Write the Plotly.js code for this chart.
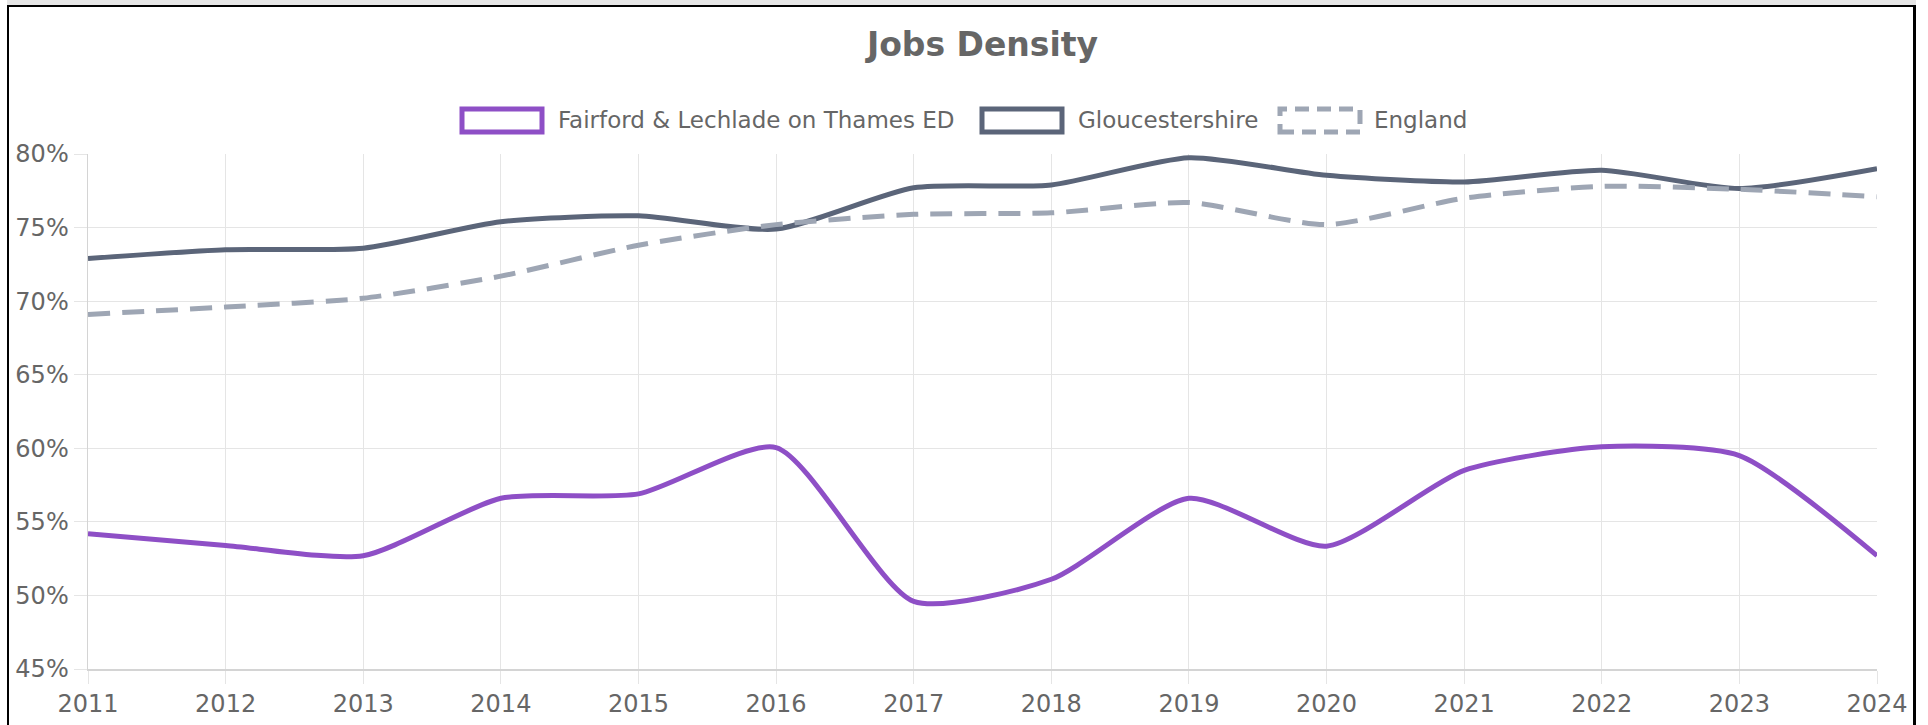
<!DOCTYPE html>
<html>
<head>
<meta charset="utf-8">
<script src="https://cdn.plot.ly/plotly-3.0.1.min.js"></script>
<style>
  html, body { margin: 0; padding: 0; background: #ffffff; overflow: hidden; }
  #wrap { position: relative; width: 1928px; height: 725px; }
  #chart { position: absolute; left: 0; top: 0; width: 1928px; height: 725px; }
  .strip { position: absolute; left: 7px; top: 0; width: 1909px; height: 5px; background: #e6e6e6; pointer-events: none; }
  .frame { position: absolute; left: 7px; top: 5px; width: 1904px; height: 800px; border-top: 2px solid #000; border-left: 2px solid #000; border-right: 3px solid #000; pointer-events: none; }
</style>
</head>
<body>
<div id="wrap">
  <div id="chart"></div>
  <div class="strip"></div>
  <div class="frame"></div>
</div>
<script>
// ---- data ----
const years = [2011, 2012, 2013, 2014, 2015, 2016, 2017, 2018, 2019, 2020, 2021, 2022, 2023, 2024];
const fairford = [54.2, 53.4, 52.7, 56.6, 56.9, 60.05, 49.6, 51.1, 56.6, 53.35, 58.5, 60.1, 59.5, 52.7];
const gloucestershire = [72.9, 73.5, 73.6, 75.4, 75.8, 74.9, 77.7, 77.9, 79.75, 78.55, 78.1, 78.9, 77.65, 79.0];
const england = [69.1, 69.6, 70.2, 71.7, 73.8, 75.2, 75.9, 76.0, 76.7, 75.2, 77.0, 77.8, 77.6, 77.1];
const seriesNames = ["Fairford & Lechlade on Thames ED", "Gloucestershire", "England"];
const yTicks = [45, 50, 55, 60, 65, 70, 75, 80];

// ---- styles ----
const colors = ["#8e4fc6", "#5b6579", "#9ea6b4"];
const W = 1928, H = 725;
const M = { l: 88, r: W - 1877, t: 154, b: H - 669 };
const plotW = W - M.l - M.r, plotH = H - M.t - M.b;
const px2x = px => (px - M.l) / plotW;
const px2y = py => (H - M.b - py) / plotH;

const fontFam = "DejaVu Sans, Liberation Sans, Arial, sans-serif";
const textCol = "#666666";
const gridCol = "#e5e5e5";
const smooth = 0.65;

const traces = [
  { x: years, y: fairford, name: seriesNames[0], type: "scatter", mode: "lines",
    line: { color: colors[0], width: 5, shape: "spline", smoothing: smooth } },
  { x: years, y: gloucestershire, name: seriesNames[1], type: "scatter", mode: "lines",
    line: { color: colors[1], width: 5, shape: "spline", smoothing: smooth } },
  { x: years, y: england, name: seriesNames[2], type: "scatter", mode: "lines",
    line: { color: colors[2], width: 5, shape: "spline", smoothing: smooth, dash: "22px,12px" } }
];

// custom legend (boxes like the original)
const legendBoxes = [
  { x0: 462, x1: 542, tx: 556, dash: "solid" },
  { x0: 982, x1: 1062, tx: 1076, dash: "solid" },
  { x0: 1280, x1: 1360, tx: 1372, dash: "14px,8px" }
];
const ly0 = 109, ly1 = 132;
const shapes = legendBoxes.map((b, i) => ({
  type: "rect", xref: "paper", yref: "paper",
  x0: px2x(b.x0), x1: px2x(b.x1), y0: px2y(ly1), y1: px2y(ly0),
  line: { color: colors[i], width: 5, dash: b.dash },
  fillcolor: "rgba(255,255,255,0)"
}));
const annotations = legendBoxes.map((b, i) => ({
  xref: "paper", yref: "paper", x: px2x(b.tx), y: px2y((ly0 + ly1) / 2),
  xanchor: "left", yanchor: "middle", showarrow: false,
  text: seriesNames[i], font: { family: fontFam, size: 23, color: textCol }
}));

const layout = {
  width: W, height: H,
  margin: M,
  paper_bgcolor: "#ffffff", plot_bgcolor: "#ffffff",
  showlegend: false,
  title: { text: "Jobs Density", x: 0.5, xref: "paper", xanchor: "center",
           y: 1 - 44 / H, yanchor: "middle", yref: "container",
           font: { family: fontFam, size: 33, color: textCol, weight: "bold" } },
  xaxis: {
    range: [2011, 2024], tickmode: "array", tickvals: years, ticktext: years.map(String),
    showgrid: true, gridcolor: gridCol, gridwidth: 1,
    ticks: "outside", ticklen: 13, tickcolor: gridCol, tickwidth: 1,
    showline: true, linecolor: "#d4d4d4", linewidth: 1.5,
    zeroline: false, automargin: false, fixedrange: true,
    tickfont: { family: fontFam, size: 24, color: textCol }
  },
  yaxis: {
    range: [45, 80], tickmode: "array", tickvals: yTicks, ticktext: yTicks.map(v => v + "%"),
    showgrid: true, gridcolor: gridCol, gridwidth: 1,
    ticks: "outside", ticklen: 13, tickcolor: gridCol, tickwidth: 1,
    showline: true, linecolor: "#d4d4d4", linewidth: 1.5,
    zeroline: false, automargin: false, fixedrange: true,
    tickfont: { family: fontFam, size: 24, color: textCol }
  },
  shapes: shapes,
  annotations: annotations
};

Plotly.newPlot("chart", traces, layout, { displayModeBar: false, staticPlot: true });
</script>
</body>
</html>
